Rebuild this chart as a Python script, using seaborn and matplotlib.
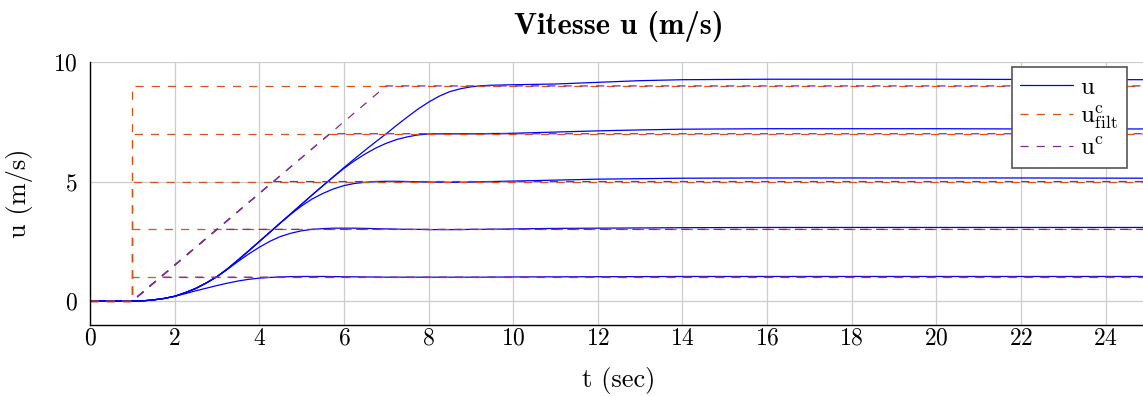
import matplotlib
matplotlib.use("Agg")
import matplotlib.pyplot as plt
import seaborn as sns

# sampled time (s)
t = [0, 1, 1.25, 1.5, 1.75, 2, 2.25, 2.5, 2.75, 3, 3.25, 3.5, 3.75, 4, 4.25, 4.5, 4.75,
     5, 5.25, 5.5, 5.75, 6, 6.25, 6.5, 6.75, 7, 7.25, 7.5, 7.75, 8, 8.25, 8.5, 8.75,
     9, 9.25, 9.5, 9.75, 10, 11, 12, 13, 14, 16, 18, 20, 22, 25]

# measured speed for each command level
u_1 = [0, 0, 0.01, 0.05, 0.11, 0.2, 0.31, 0.43, 0.54, 0.65, 0.75, 0.84, 0.91, 0.96, 0.99,
       1.01, 1.025, 1.03, 1.03, 1.03, 1.025, 1.02, 1.015, 1.01, 1.005, 1.0, 1.0, 1.0, 1.0,
       1.0, 1.0, 1.0, 1.0, 1.0, 1.0, 1.005, 1.005, 1.01, 1.015, 1.02, 1.025, 1.03, 1.03,
       1.03, 1.03, 1.03, 1.03]
u_3 = [0, 0, 0.01, 0.05, 0.11, 0.2, 0.35, 0.53, 0.76, 1.02, 1.33, 1.66, 1.97, 2.25, 2.5,
       2.7, 2.84, 2.94, 3.0, 3.03, 3.05, 3.05, 3.05, 3.04, 3.03, 3.02, 3.01, 3.0, 3.0, 2.99,
       2.99, 2.99, 2.99, 3.0, 3.0, 3.01, 3.01, 3.02, 3.04, 3.05, 3.06, 3.07, 3.08, 3.08,
       3.08, 3.08, 3.08]
u_5 = [0, 0, 0.01, 0.05, 0.11, 0.2, 0.35, 0.53, 0.76, 1.02, 1.35, 1.72, 2.1, 2.49, 2.88,
       3.27, 3.64, 3.98, 4.27, 4.5, 4.69, 4.83, 4.92, 4.97, 5.0, 5.01, 5.01, 5.0, 4.99,
       4.98, 4.975, 4.97, 4.97, 4.98, 4.99, 5.0, 5.01, 5.02, 5.06, 5.1, 5.12, 5.14, 5.15,
       5.15, 5.15, 5.15, 5.14]
u_7 = [0, 0, 0.01, 0.05, 0.11, 0.2, 0.35, 0.53, 0.76, 1.02, 1.35, 1.72, 2.1, 2.49, 2.88,
       3.27, 3.66, 4.05, 4.44, 4.82, 5.19, 5.55, 5.87, 6.15, 6.4, 6.6, 6.76, 6.87, 6.95,
       6.99, 7.0, 7.0, 7.0, 7.0, 7.0, 7.01, 7.01, 7.02, 7.07, 7.12, 7.16, 7.19, 7.21,
       7.21, 7.21, 7.2, 7.2]
u_9 = [0, 0, 0.01, 0.05, 0.11, 0.2, 0.35, 0.53, 0.76, 1.02, 1.35, 1.72, 2.1, 2.49, 2.88,
       3.27, 3.66, 4.05, 4.44, 4.82, 5.2, 5.58, 5.95, 6.31, 6.66, 7.0, 7.36, 7.7, 8.03,
       8.32, 8.57, 8.76, 8.88, 8.96, 9.01, 9.03, 9.04, 9.05, 9.08, 9.15, 9.22, 9.26, 9.28,
       9.28, 9.28, 9.27, 9.26]
speeds = [u_1, u_3, u_5, u_7, u_9]

# commands: step at t_step (filtered) and ramp ending at ramp_end
targets = [1, 3, 5, 7, 9]
ramp_end = [1.67, 3.0, 4.33, 5.67, 7.0]
t_step = 1.0
t_final = 25

blue = "#0000ff"
orange = "#d95319"
purple = "#7e2f8e"

sns.set_style("whitegrid")
plt.rcParams['font.family'] = 'cmr10'
plt.rcParams['mathtext.fontset'] = 'cm'
plt.rcParams['axes.formatter.use_mathtext'] = True
plt.rcParams['text.color'] = 'black'
plt.rcParams['axes.labelcolor'] = 'black'

fig = plt.figure(figsize=(11.43, 3.96), dpi=100)
ax = fig.add_axes([0.0787, 0.1793, 0.9257, 0.6641])

for i, u in enumerate(speeds):
    sns.lineplot(x=t, y=u, ax=ax, color=blue, lw=0.9, estimator=None, sort=False,
                 label='u' if i == 0 else '_nolegend_')

for i, a in enumerate(targets):
    sns.lineplot(x=[0, t_step, t_step, t_final], y=[0, 0, a, a], ax=ax, color=orange,
                 lw=0.9, estimator=None, sort=False,
                 label=r'$\mathrm{u}^{\mathrm{c}}_{\mathrm{filt}}$' if i == 0 else '_nolegend_')
for i, (a, te) in enumerate(zip(targets, ramp_end)):
    sns.lineplot(x=[0, t_step, te, t_final], y=[0, 0, a, a], ax=ax, color=purple,
                 lw=0.9, estimator=None, sort=False,
                 label=r'$\mathrm{u}^{\mathrm{c}}$' if i == 0 else '_nolegend_')

# dashed commands
for line in ax.get_lines():
    if line.get_color() in (orange, purple):
        line.set_dashes((6.5, 6.5))

ax.set_xlim(0, 25)
ax.set_ylim(-1, 10)
ax.set_xticks(range(0, 25, 2))
ax.set_yticks([0, 5, 10])
ax.grid(True, color='#cccccc', lw=0.9)
ax.set_axisbelow(True)
for s in ['top', 'right']:
    ax.spines[s].set_visible(False)
for s in ['left', 'bottom']:
    ax.spines[s].set_color('black')
    ax.spines[s].set_linewidth(1.0)
ax.tick_params(direction='in', length=9, width=0.8, color='#555555',
               labelsize=17, labelcolor='black')
ax.tick_params(axis='x', pad=2)
ax.tick_params(axis='y', pad=9)

ax.set_title('Vitesse u (m/s)', fontfamily='cmb10', fontsize=22, pad=20, color='black')
ax.set_xlabel('t (sec)', fontsize=19, labelpad=12)
ax.set_ylabel('u (m/s)', fontsize=19, labelpad=14)

leg = ax.legend(loc='upper right', bbox_to_anchor=(0.98, 0.98), borderaxespad=0,
                fontsize=18, fancybox=False, framealpha=1, edgecolor='#555555',
                handlelength=2.1, handletextpad=0.3, labelspacing=0.2, borderpad=0.35)
leg.get_frame().set_linewidth(1.2)

fig.savefig('out.png', dpi=100)
